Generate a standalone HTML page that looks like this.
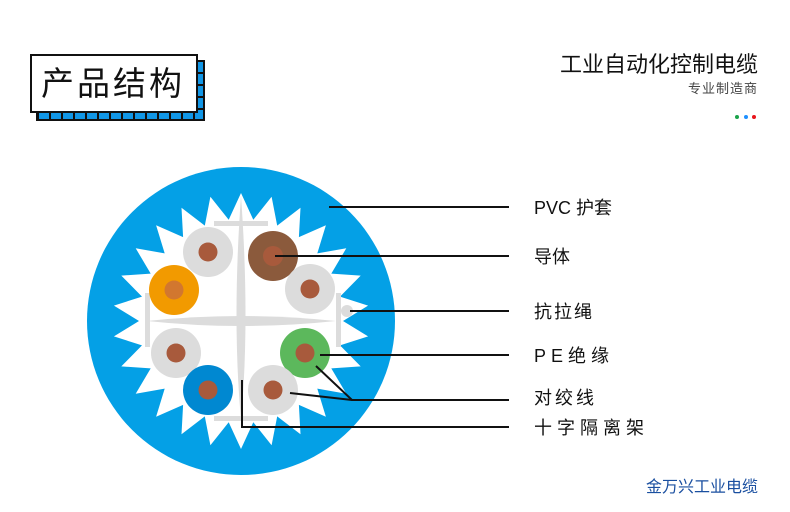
<!DOCTYPE html>
<html><head><meta charset="utf-8"><style>
html,body{margin:0;padding:0;background:#fff;width:790px;height:512px;overflow:hidden;position:relative;font-family:"Liberation Sans","Noto Sans CJK SC",sans-serif}
.t{position:absolute;white-space:nowrap;color:#111}
</style></head><body>
<svg width="790" height="512" style="position:absolute;left:0;top:0">
<defs><pattern id="seg" x="195" y="110" width="12" height="12" patternUnits="userSpaceOnUse"><rect x="0" y="0" width="10" height="10" fill="#1196e6"/></pattern></defs>
<rect x="36" y="60" width="169" height="61" fill="#111"/>
<rect x="38" y="62" width="165" height="57" fill="url(#seg)"/>
<rect x="31" y="55" width="166" height="57" fill="#fff" stroke="#111" stroke-width="2"/>
<circle cx="241" cy="321" r="154" fill="#04a0e6"/>
<polygon id="star" fill="#fff" points=""/>
<path d="M241 196 Q250 321 241 420 Q232 321 241 196Z" fill="#dcdcdc"/>
<path d="M147 321 Q241 311 336 321 Q241 331 147 321Z" fill="#dcdcdc"/>
<rect x="214" y="221" width="54" height="5" fill="#dcdcdc"/>
<rect x="214" y="416" width="54" height="5" fill="#dcdcdc"/>
<rect x="145" y="293" width="5" height="54" fill="#dcdcdc"/>
<rect x="336" y="293" width="5" height="54" fill="#dcdcdc"/>
<circle cx="347" cy="311" r="6" fill="#dcdcdc"/>
<g>
<circle cx="208" cy="252" r="25" fill="#dcdcdc"/><circle cx="208" cy="252" r="9.5" fill="#a85a3c"/>
<circle cx="273" cy="256" r="25" fill="#8b5a3c"/><circle cx="273" cy="256" r="10" fill="#a85a3c"/>
<circle cx="310" cy="289" r="25" fill="#dcdcdc"/><circle cx="310" cy="289" r="9.5" fill="#a85a3c"/>
<circle cx="174" cy="290" r="25" fill="#f29a00"/><circle cx="174" cy="290" r="9.5" fill="#d2772f"/>
<circle cx="176" cy="353" r="25" fill="#dcdcdc"/><circle cx="176" cy="353" r="9.5" fill="#a85a3c"/>
<circle cx="305" cy="353" r="25" fill="#5cb85c"/><circle cx="305" cy="353" r="9.5" fill="#a85a3c"/>
<circle cx="208" cy="390" r="25" fill="#0088d1"/><circle cx="208" cy="390" r="9.5" fill="#a85a3c"/>
<circle cx="273" cy="390" r="25" fill="#dcdcdc"/><circle cx="273" cy="390" r="9.5" fill="#a85a3c"/>
</g>
<g stroke="#111" stroke-width="2" fill="none">
<line x1="329" y1="207" x2="509" y2="207"/>
<line x1="275" y1="256" x2="509" y2="256"/>
<line x1="350" y1="311" x2="509" y2="311"/>
<line x1="320" y1="355" x2="509" y2="355"/>
<polyline points="316,366 352,400 509,400"/>
<line x1="290" y1="393" x2="352" y2="400"/>
<polyline points="242,380 242,427 509,427"/>
</g>
<circle cx="737" cy="117" r="2" fill="#1aa34a"/>
<circle cx="746" cy="117" r="2" fill="#1e90ff"/>
<circle cx="754" cy="117" r="2" fill="#e8151b"/>
</svg>
<script>
(function(){var n=26,cx=241,cy=321,R=128,r=102,p=[];for(var i=0;i<2*n;i++){var a=Math.PI*i/n-Math.PI/2;var rr=i%2?r:R;p.push((cx+rr*Math.cos(a)).toFixed(1)+","+(cy+rr*Math.sin(a)).toFixed(1));}document.getElementById("star").setAttribute("points",p.join(" "));})();
</script>
<div class="t" style="left:41px;top:62px;font-size:33px;line-height:44px;letter-spacing:3px">产品结构</div>
<div class="t" style="right:32px;top:51px;font-size:22px;line-height:28px;letter-spacing:0">工业自动化控制电缆</div>
<div class="t" style="right:32px;top:80px;font-size:13px;line-height:18px;color:#444;letter-spacing:1px">专业制造商</div>
<div class="t" style="left:534px;top:197px;font-size:18px;line-height:22px">PVC 护套</div>
<div class="t" style="left:534px;top:246px;font-size:18px;line-height:22px">导体</div>
<div class="t" style="left:534px;top:301px;font-size:18px;line-height:22px;letter-spacing:2px">抗拉绳</div>
<div class="t" style="left:534px;top:345px;font-size:18px;line-height:22px;letter-spacing:5px">PE绝缘</div>
<div class="t" style="left:534px;top:387px;font-size:18px;line-height:22px;letter-spacing:3px">对绞线</div>
<div class="t" style="left:534px;top:417px;font-size:18px;line-height:22px;letter-spacing:5px">十字隔离架</div>
<div class="t" style="right:32px;top:477px;font-size:16px;line-height:22px;color:#1a4fa0">金万兴工业电缆</div>
</body></html>
